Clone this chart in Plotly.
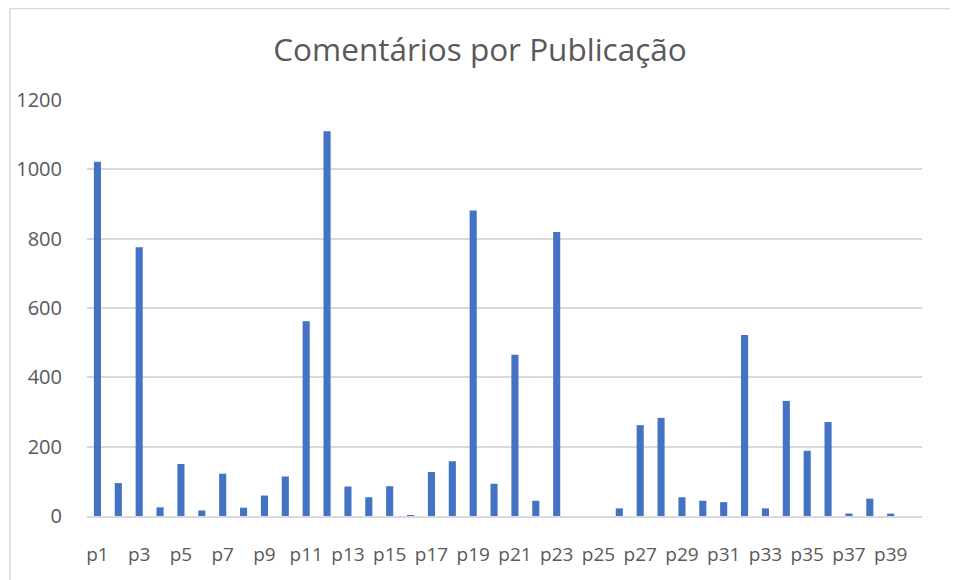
import plotly.graph_objects as go

# publications p1..p40 and their comment counts
posts = ["p" + str(i) for i in range(1, 41)]
comments = [1022, 95, 775, 25, 150, 16, 122, 24, 59, 114,
            562, 1110, 85, 54, 86, 2, 127, 158, 881, 93,
            465, 44, 819, 0, 0, 22, 262, 283, 54, 44,
            40, 522, 22, 332, 188, 271, 7, 50, 7, 0]
shown_ticks = posts[::2]
y_ticks = [0, 200, 400, 600, 800, 1000, 1200]

grey = "#595959"

fig = go.Figure()
fig.add_trace(go.Bar(x=posts, y=comments, marker_color="#4472C4",
                     marker_line_width=0))

# page body adds 8px, so margins are shifted by that
fig.update_layout(
    width=958, height=580,
    margin=dict(l=79, r=44, t=92, b=72, autoexpand=False),
    paper_bgcolor="white", plot_bgcolor="white",
    bargap=0.66,
    showlegend=False,
    font=dict(family="Open Sans", color=grey, size=19),
    title=dict(text="Comentários por Publicação", x=0.4927, xanchor="center",
               y=0.9276, yanchor="middle",
               font=dict(family="Open Sans", size=31.5, color=grey)),
)
fig.update_xaxes(type="category", tickvals=shown_ticks, ticktext=shown_ticks,
                 showgrid=False, showline=True, linecolor="#d9d9d9", linewidth=2,
                 ticks="", ticklabelstandoff=20, tickfont=dict(size=19))
fig.update_yaxes(range=[0, 1200], tickvals=y_ticks, showgrid=True,
                 gridcolor="#d9d9d9", gridwidth=1.5, zeroline=False,
                 showline=False, ticks="", ticklabelstandoff=24,
                 tickfont=dict(size=20))

# light chart-area border like the spreadsheet frame
fig.add_shape(type="rect", xref="paper", yref="paper",
              x0=-0.0922, x1=1.06, y0=-0.2, y1=1.22,
              line=dict(color="#d9d9d9", width=1.5), layer="below")

fig.write_html("out.html")
